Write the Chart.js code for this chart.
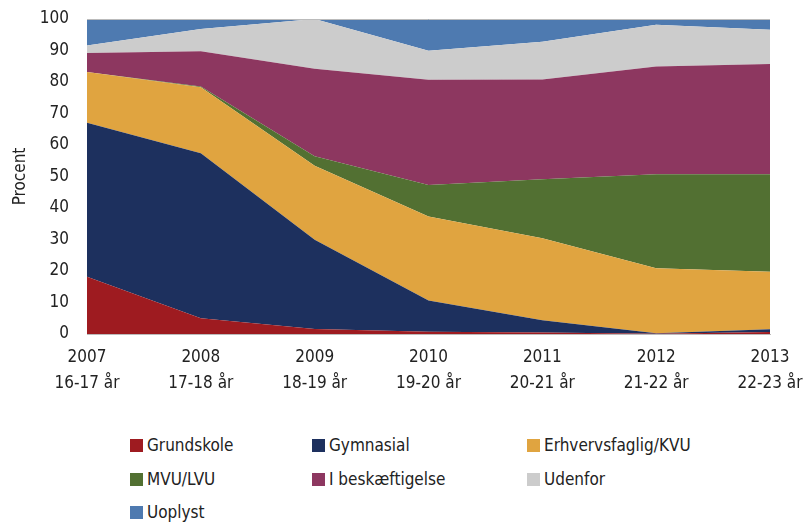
<!DOCTYPE html>
<html>
<head>
<meta charset="utf-8">
<script src="https://cdn.jsdelivr.net/npm/chart.js@4"></script>
<style>
  body { margin: 0; background: #fff; }
  #wrap { position: relative; width: 809px; height: 523px; }
  #legend { position: absolute; left: 0; top: 435px; width: 809px; font-family: "DejaVu Sans Condensed", Roboto, sans-serif; font-size: 17px; color: #222; }
  .item { position: absolute; display: flex; align-items: center; white-space: nowrap; }
  .box { width: 13px; height: 13px; margin-right: 4px; }
</style>
</head>
<body>
<div id="wrap">
  <canvas id="chart" width="809" height="420"></canvas>
  <div id="legend"></div>
</div>
<script>
const years = ['2007', '2008', '2009', '2010', '2011', '2012', '2013'];
const ages = ['16-17 år', '17-18 år', '18-19 år', '19-20 år', '20-21 år', '21-22 år', '22-23 år'];

const grundskole = [18.2, 5.0, 1.6, 0.7, 0.5, 0.1, 0.6];
const gymnasial = [48.9, 52.4, 28.3, 9.9, 3.9, 0.1, 0.9];
const erhverv = [16.1, 20.9, 23.5, 26.7, 26.0, 20.7, 18.3];
const mvu = [0.0, 0.3, 3.0, 10.0, 18.7, 29.8, 30.9];
const beskaeftigelse = [6.0, 11.2, 27.8, 33.4, 31.7, 34.2, 35.0];
const udenfor = [2.4, 7.0, 15.8, 9.2, 12.0, 13.3, 10.9];
const uoplyst = [8.4, 3.2, 0.0, 10.1, 7.2, 1.8, 3.4];

const names = ['Grundskole', 'Gymnasial', 'Erhvervsfaglig/KVU', 'MVU/LVU', 'I beskæftigelse', 'Udenfor', 'Uoplyst'];
const colors = ['#9E1B20', '#1D305E', '#E0A440', '#527032', '#8D3760', '#CCCCCC', '#4E7AB0'];
const series = [grundskole, gymnasial, erhverv, mvu, beskaeftigelse, udenfor, uoplyst];

const font = "'DejaVu Sans Condensed', Roboto, sans-serif";

const datasets = series.map((d, i) => ({
    label: names[i],
    data: d,
    backgroundColor: colors[i],
    borderColor: colors[i],
    borderWidth: 0,
    pointRadius: 0,
    tension: 0,
    fill: i === 0 ? 'origin' : '-1'
}));

const ctx = document.getElementById('chart').getContext('2d');
new Chart(ctx, {
    type: 'line',
    data: {
        labels: years.map((y, i) => [y, ages[i]]),
        datasets: datasets
    },
    options: {
        responsive: false,
        animation: false,
        layout: { padding: { left: 0, right: 39, top: 19, bottom: 0 } },
        plugins: {
            legend: { display: false },
            tooltip: { enabled: false }
        },
        scales: {
            x: {
                offset: false,
                grid: { display: false, drawTicks: false },
                border: { color: '#bbbbbb' },
                ticks: { color: '#222', font: { family: font, size: 17, lineHeight: 1.5 }, padding: 11, maxRotation: 0, autoSkip: false },
                afterFit: s => { s.height = 86; s.paddingLeft = 0; s.paddingRight = 0; }
            },
            y: {
                stacked: true,
                min: 0,
                max: 100,
                grid: { display: false, drawTicks: false },
                border: { display: false },
                ticks: { stepSize: 10, color: '#222', font: { family: font, size: 17 }, padding: 18 },
                title: { display: true, text: 'Procent', color: '#222', font: { family: font, size: 17 }, padding: { top: 10, bottom: 0 } },
                afterFit: s => { s.width = 87; s.paddingTop = 0; s.paddingBottom = 0; }
            }
        }
    },
    plugins: [{
        id: 'topline',
        afterDraw(chart) {
            const a = chart.chartArea, c = chart.ctx;
            c.save();
            c.strokeStyle = '#bbbbbb';
            c.lineWidth = 1;
            c.beginPath();
            c.moveTo(a.left, a.top + 0.5);
            c.lineTo(a.right, a.top + 0.5);
            c.stroke();
            c.restore();
        }
    }]
});

const legendX = [130, 312, 527];
const legendY = [0, 34, 67];
const legend = document.getElementById('legend');
names.forEach((n, i) => {
    const el = document.createElement('div');
    el.className = 'item';
    el.style.left = legendX[i % 3] + 'px';
    el.style.top = legendY[Math.floor(i / 3)] + 'px';
    el.innerHTML = '<span class="box" style="background:' + colors[i] + '"></span><span>' + n + '</span>';
    legend.appendChild(el);
});
</script>
</body>
</html>
